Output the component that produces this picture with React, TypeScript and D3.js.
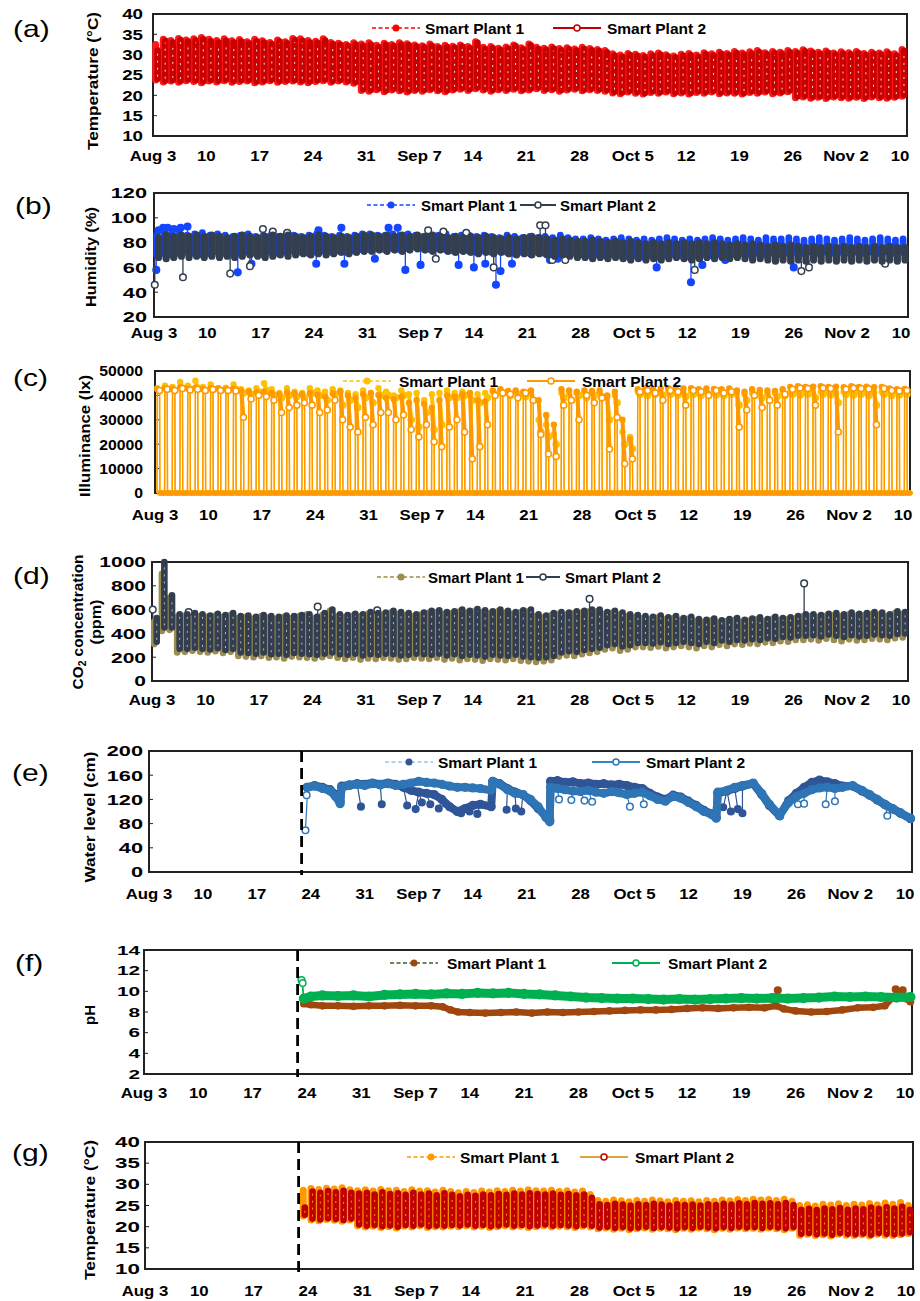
import React from 'react';
import * as d3 from 'd3';

const FONT = "'Liberation Sans', Arial, Helvetica, sans-serif";

// x axis is in days after Aug 3
const tickDays = [0, 7, 14, 21, 28, 35, 42, 49, 56, 63, 70, 77, 84, 91, 99];
const tickLabels = ['Aug 3', '10', '17', '24', '31', 'Sep 7', '14', '21', '28', 'Oct 5', '12', '19', '26', 'Nov 2', '10'];
const sensorStart = 19.8; // water sensors installed (dashed line)

// (a) air temperature, daily max / min, from Aug 3
const airHi1 = [32.5,33.8,33.5,34.0,33.6,33.9,34.2,33.8,33.5,33.9,33.4,33.7,33.2,33.8,
  33.4,33.0,33.6,33.2,34.0,33.9,33.5, 33.3,33.9,33.0,32.8,32.5,32.9,
  32.6,32.9,32.3,32.8,32.5,32.9,32.7,32.4,32.2,32.6,32.0,32.3,32.1,
  32.4,32.0,33.2,31.8,32.0,31.6,31.9,32.4,31.7,32.6,31.8,31.6,31.9,31.5,31.7,31.4,31.8,31.5,31.3,31.0,
  30.2,29.9,30.3,30.1,29.8,30.2,30.4,30.0,29.7,30.1,30.3,29.9,30.5,30.2,30.6,30.3,30.8,30.4,30.7,31.0,30.5,30.8,30.6,31.0,
  30.8,31.2,30.9,30.6,30.9,30.4,30.7,30.5,30.8,30.3,30.6,30.4,30.7,30.2,31.3];
const airLo1 = [23.8,23.3,23.5,23.2,23.6,23.4,23.1,23.5,23.3,23.6,23.2,23.4,23.5,23.1,23.3,23.6,23.2,23.4,23.5,23.3,23.1,23.4,23.6,23.2,23.5,23.3,23.0,
  21.2,21.0,21.4,20.9,21.3,21.1,20.8,21.2,21.0,21.4,21.1,20.9,21.3,
  21.5,21.2,21.6,21.3,21.0,21.4,21.2,21.5,21.1,21.3,21.6,21.2,21.4,21.0,21.3,21.5,21.1,21.4,21.2,21.0,
  20.6,20.4,20.8,20.5,20.3,20.7,20.5,20.8,20.4,20.6,20.3,20.7,20.5,20.8,20.4,20.6,20.5,20.3,20.7,20.5,20.8,20.4,20.6,20.9,
  19.4,19.6,19.3,19.5,19.2,19.6,19.4,19.3,19.5,19.2,19.6,19.4,19.3,19.5,19.8];
const airHi2 = [31.0,33.4,33.0,33.6,33.2,33.5,33.8,33.3,33.0,33.4,33.0,33.2,32.8,33.3,
  33.0,32.6,33.2,32.8,33.6,33.4,33.0, 32.9,33.5,32.6,32.4,32.1,32.5,
  32.2,32.5,31.9,32.4,32.1,32.5,32.3,32.0,31.8,32.2,31.6,31.9,31.7,
  32.0,31.6,32.9,31.4,31.6,31.2,31.5,32.1,31.3,32.3,31.4,31.2,31.5,31.1,31.3,31.0,31.4,31.1,30.9,30.6,
  29.8,29.5,29.9,29.7,29.4,29.8,30.0,29.6,29.3,29.7,29.9,29.5,30.1,29.8,30.2,29.9,30.4,30.0,30.3,30.6,30.1,30.4,30.2,30.6,
  30.4,30.8,30.5,30.2,30.5,30.0,30.3,30.1,30.4,29.9,30.2,30.0,30.3,29.8,30.9];
const airLo2 = [24.1,23.6,23.8,23.5,23.9,23.7,23.4,23.8,23.6,23.9,23.5,23.7,23.8,23.4,23.6,23.9,23.5,23.7,23.8,23.6,23.4,23.7,23.9,23.5,23.8,23.6,23.3,
  21.5,21.3,21.7,21.2,21.6,21.4,21.1,21.5,21.3,21.7,21.4,21.2,21.6,
  21.8,21.5,21.9,21.6,21.3,21.7,21.5,21.8,21.4,21.6,21.9,21.5,21.7,21.3,21.6,21.8,21.4,21.7,21.5,21.3,
  20.9,20.7,21.1,20.8,20.6,21.0,20.8,21.1,20.7,20.9,20.6,21.0,20.8,21.1,20.7,20.9,20.8,20.6,21.0,20.8,21.1,20.7,20.9,21.2,
  19.7,19.9,19.6,19.8,19.5,19.9,19.7,19.6,19.8,19.5,19.9,19.7,19.6,19.8,20.1];

// (b) humidity, daily max / min and single readings outside the band
const humHi1 = [86,88,87,88,86,87,88,86,87,86,85,86,87,85,86,86,85,87,86,85,86,87,86,85,86,85,86,87,
  87,86,86,87,86,87,86,85,86,86,87,85,86,86,85,86,85,84,86,85,84,85,84,85,84,86,84,83,
  83,84,83,82,83,84,83,82,83,82,83,84,83,82,83,82,83,84,83,82,83,84,83,82,84,83,83,84,83,82,83,84,83,82,83,84,83,82,83,84,83,82,83];
const humLo1 = [70,71,70,71,72,71,70,71,72,71,70,71,72,71,70,72,71,72,73,72,71,72,73,72,73,72,73,74,
  74,75,74,75,74,75,76,75,74,75,74,73,74,73,72,73,72,73,72,71,72,71,72,71,70,71,70,71,
  70,69,70,69,70,69,68,69,68,69,68,69,70,69,68,69,70,69,70,71,70,71,70,71,70,71,70,71,72,71,72,71,72,71,72,71,72,71,72,71,72,71,72];
const humHi2 = [84,86,85,86,85,86,85,86,85,84,85,86,85,84,85,86,85,86,85,84,85,86,85,84,85,84,85,86,
  86,85,86,85,86,85,86,85,86,85,84,85,84,85,84,85,84,83,84,83,84,85,84,83,82,83,82,81,
  81,82,81,80,81,80,81,80,79,80,79,80,79,80,79,80,79,80,79,78,79,78,79,78,77,78,77,78,77,76,77,76,77,76,77,76,77,76,77,76,77,76,76];
const humLo2 = [68,67,68,69,68,69,68,69,68,69,68,69,70,69,68,69,70,69,70,71,70,71,70,71,72,71,72,73,
  73,74,73,74,73,74,75,74,73,74,73,72,73,72,71,72,71,72,71,70,71,70,71,70,69,70,69,68,
  68,67,68,67,68,67,66,67,66,67,66,67,68,67,66,67,68,67,68,67,68,67,66,67,66,65,66,65,66,65,66,65,66,65,66,65,66,65,66,65,66,65,66];
const humSpikes1 = [[0.3,58],[0.6,90],[1.2,92],[1.8,92],[2.6,91],[3.5,92],[4.4,93],[11,56],[12.8,63],[21.3,63],[21.6,90],
  [24.6,92],[25,63],[29,67],[30.8,92],[32,92],[33,58],[35,62],[40,62],[42,60],[43.5,63],[44.9,46],[45.5,57],[47,63],
  [52,66],[53,67],[66,60],[70.5,48],[72,62],[75,66],[84,60]];
const humSpikes2 = [[0.1,46],[3.8,52],[10,55],[12.6,61],[14.3,91],[15.6,89],[17.5,88],[36,90],[37,67],[38,89],[41,88],
  [44.6,60],[50.7,94],[51.4,94],[52.3,66],[54,66],[71,58],[85,57],[86,60],[96,63]];

// (c) illuminance: daily daylight peak and lowest daylight reading
const luxPeak1 = [43000,44000,43500,45500,44000,46000,43500,44500,43000,43200,44500,
  42500,42000,43000,45000,42500,41000,43000,41500, 41000,43000,42000,41500,42500,
  42000,41000,40500,42000,40000,43000, 41500,40000,42000, 40500,41000,38000,40500,41000,42000,
  41000,41500,40000,40500,41000, 41500,42000,41000,41500,41000,40500, 30000,28000,24000,
  41000,40500,41000,40000,41000,40500,39000,40000, 25000,23000,
  41500,41000,41500,41000,41500,41200,41000,41500,41000,41500,41200,41000,41500,
  41000,40500,41000,41200,40800,41000,41200,
  41500,41200,41500,41000,41500,41200,41000,41500,41200,41500,41000,41200,41500,41000,41200,41500];
const luxDip1 = [42000,42500,42000,43000,42500,43000,42000,42500,42000,42000,42500,
  41000,40500,41500,42000,40000,39000,40000,39500, 39000,41000,40000,38000,40500,
  36000,38000,35000,39000,37000,40000, 40000,39000,40000, 30000,27000,33000,26000,28000,39000,
  39000,40000,38000,37000,39000, 40500,41000,40000,40500,39500,38000, 25000,23000,20000,
  39000,38000,40000,39000,40000,39500,30000,37000, 20000,18000,
  40500,40000,40500,40000,40500,40200,39500,40500,40000,40500,40200,40000,40500,
  36000,38000,40000,39000,38000,39500,40000,
  40500,40200,40500,39000,40500,40200,37000,40500,40200,40500,40000,36000,40500,40000,40200,40500];
const luxPeak2 = [42500,43000,42500,43500,42800,43200,42600,43000,42800,42500,42700,
  41800,41500,41200,41500,41000,40500,41200,40800, 40500,41000,40200,39500,40800,
  41500,40000,39000,40500,41000,40200, 39000,38500,39500, 37000,38000,36500,35000,38000,40000,
  39500,40500,41000,38000,37500, 42000,42500,41800,42000,41500,42000, 38000,32000,28000,
  42500,42000,41500,42000,41800,42000,40000,41500, 30000,22000,
  42500,43000,42500,42800,43000,42600,42800,43000,42500,42800,42600,42500,42800,
  42000,41500,42500,42200,42000,41800,42500,
  43500,43800,43500,43600,43800,43500,43600,43400,43800,43500,43600,43400,43500,42800,42500,42600];
const luxDip2 = [42000,42500,42000,42800,42200,42500,42000,42400,42000,42000,41800,
  31000,38500,40000,39500,38000,33000,35000,36000, 37000,36000,33000,34000,38000,
  30000,27000,25000,31000,28000,33000, 33000,30000,32000, 26000,23000,28000,21000,19000,27000,
  30000,25000,14000,19000,28000, 40000,41000,40500,39000,41000,38000, 24000,16000,15000,
  36000,38000,30000,40000,37000,39000,18000,31000, 12000,14000,
  41500,42000,41000,38000,42000,41500,36000,42000,41500,40000,42000,41000,41500,
  27000,34000,40000,35000,38000,36000,40500,
  42500,43000,42800,36000,43000,42800,25000,42500,43000,42800,42600,28000,42800,42000,41800,42000];

// (d) CO2, daily max / min
const co2Hi1 = [500,900,700,540,550, 555,545,540,550,540,555,
  530,540,525,545,535,525,540,530,545,560,530,555,590,545,
  540,550,545,565,555,560,575,565,555,545,560,
  575,580,565,570,585,575,590,580,570,585,575,565,580,585,
  545,535,555,565,560,570,575, 585, 585,565,575,560,545,540,
  530,525,535,520,530,515,525, 505,500,510,495,505,515,500,
  510,520,505,525,515,520,530, 545,
  545,540,550,555,545,560,550,555,565,560,545,570,565];
const co2Lo1 = [310,420,430,240,245, 255,245,240,250,235,245,
  210,205,200,210,195,200,190,205,200,195,190,200,210,195,
  185,195,180,190,185,195,190,180,185,195,190,
  185,195,180,190,175,185,180,170,185,180,175,185,170,165,
  160,165,175,205,215,210,225, 235, 245,265,275,255,265,285,
  285,280,290,275,285,295,285, 275,295,285,305,295,310,305,
  315,310,325,320,335,330,345, 345,
  350,340,355,345,335,350,340,345,355,350,345,360,365];
const co2Hi2 = [530,1000,720,560,560, 570,560,550,565,555,570,
  545,550,540,555,545,540,550,545,555,560,540,570,600,560,
  555,565,560,580,570,575,590,580,570,560,575,
  590,595,580,585,600,590,605,595,585,600,590,580,595,600,
  560,550,570,580,575,585,590, 600, 600,580,590,575,560,555,
  545,540,550,535,545,530,540, 520,515,525,510,520,530,515,
  525,535,520,540,530,535,545, 560,
  560,555,565,570,560,575,565,570,580,575,560,585,580];
const co2Lo2 = [330,450,450,270,270, 280,270,265,275,260,270,
  240,235,230,240,225,230,220,235,230,225,220,230,240,225,
  220,230,215,225,220,230,225,215,220,230,225,
  220,230,215,225,210,220,215,205,220,215,210,220,205,200,
  195,200,210,240,250,245,260, 270, 280,300,310,290,300,320,
  320,315,325,310,320,330,320, 310,330,320,340,330,345,340,
  350,345,360,355,370,365,380, 380,
  385,375,390,380,370,385,375,380,390,385,380,395,400];
const co2Spikes2 = [[0.1,600],[4.8,580],[21.7,625],[29.5,595],[57.3,690],[85.4,820]];

// (e) water level, [day, cm]
const level1 = [[20.5,140],[21.5,143],[22.5,140],[23.5,136],[24.2,128],[24.8,116],[25.0,142],[26,144],[27,146],[28,145],
  [29,147],[30,145],[31,147],[32,145],[33,140],[34,135],[35,132],[36,130],[37,128],[38,120],[39,108],[40,100],[41,105],
  [42,110],[43,112],[44.4,108],[44.6,150],[45.5,146],[46.5,138],[47.5,132],[48.5,128],[49.5,118],[50.5,105],[51.5,92],
  [52,85],[52.1,150],[53,151],[54,148],[55,149],[56,146],[57,147],[58,145],[59,146],[60,144],[61,145],[62,143],[63,140],
  [64,138],[65,130],[66,124],[67,120],[68,127],[69,124],[70,117],[71,110],[72,102],[73,96],[73.6,90],[73.8,130],[75,134],
  [76,138],[77,142],[78.4,146],[79.5,128],[80.5,110],[81.8,93],[83,118],[84,130],[85,140],[86,148],[87,152],[88,149],
  [89,146],[90,142],[91.3,142],[92.5,134],[93.5,127],[94.5,119],[95.5,111],[96.5,104],[97.5,97],[98.8,88]];
const level2 = [[20.6,140],[21.5,142],[22.5,138],[23.5,134],[24.2,125],[24.8,113],[25.0,140],[26,143],[27,145],[28,143],
  [29,146],[30,144],[31,146],[32,143],[33,145],[34,147],[35,150],[36,148],[37,147],[38,145],[39,142],[40,140],[41,140],
  [42,139],[43,138],[44.4,135],[44.6,149],[45.5,145],[46.5,136],[47.5,130],[48.5,128],[49.5,120],[50.5,108],[51.5,90],
  [52,83],[52.1,140],[53,138],[54,136],[55,134],[56,133],[57,135],[58,132],[59,130],[60,133],[61,131],[62,128],[63,130],
  [64,132],[65,126],[66,120],[67,117],[68,125],[69,122],[70,115],[71,108],[72,100],[73,95],[73.6,89],[73.8,132],[75,135],
  [76,140],[77,143],[78.4,147],[79.5,130],[80.5,112],[81.8,94],[83,115],[84,125],[85,130],[86,136],[87,139],[88,140],
  [89,138],[90,140],[91.3,143],[92.5,135],[93.5,128],[94.5,120],[95.5,112],[96.5,105],[97.5,98],[98.8,89]];
const levelDots1 = [[27.5,108],[30.2,112],[33.5,110],[34.6,104],[35.4,115],[36.5,112],[37.6,105],[38.5,113],[40.5,97],
  [41.6,100],[42.6,96],[46.4,103],[47.6,105],[48.3,100],[74.5,107],[75.5,100],[76.4,104],[77,97]];
const levelDots2 = [[20.3,69],[20.45,127],[53.2,120],[54.8,119],[56.5,118],[57.5,116],[62.4,108],[64.2,112],[81.9,92],
  [84.2,112],[85,113],[87.8,112],[89,117],[95.8,93]];

// (f) pH, [day, pH]
const ph1 = [[20.6,8.8],[21.5,8.7],[23,8.6],[25,8.6],[27,8.55],[29,8.6],[31,8.6],[33,8.65],[35,8.6],[37,8.6],[38.5,8.5],
  [39.5,8.2],[40.5,8.0],[42,7.95],[44,7.9],[46,7.95],[48,8.0],[50,7.9],[52,8.0],[54,7.95],[56,8.0],[58,8.05],[60,8.1],
  [62,8.15],[64,8.2],[66,8.2],[68,8.25],[70,8.35],[72,8.4],[74,8.35],[76,8.4],[78,8.45],[80,8.4],[81.5,8.6],[82.5,8.3],
  [84,8.1],[86,8.0],[88,8.05],[90,8.2],[92,8.4],[94,8.45],[95.5,8.6],[96.5,9.4],[97.5,9.8],[98.2,9.3],[98.8,9.0]];
const ph2 = [[20.6,9.3],[21.5,9.5],[23,9.6],[25,9.55],[27,9.6],[29,9.5],[31,9.65],[33,9.7],[35,9.75],[37,9.7],[39,9.8],
  [41,9.75],[43,9.85],[45,9.8],[47,9.85],[49,9.75],[51,9.7],[53,9.6],[55,9.5],[57,9.4],[59,9.35],[61,9.3],[63,9.3],
  [65,9.25],[67,9.2],[69,9.25],[71,9.2],[73,9.25],[75,9.3],[77,9.35],[79,9.3],[81,9.35],[83,9.3],[85,9.35],[87,9.4],
  [89,9.5],[91,9.45],[93,9.5],[95,9.45],[97,9.4],[98.8,9.45]];
const phDots1 = [[81.3,9.4],[81.7,10.1],[96.9,10.2],[97.8,10.1]];
const phDots2 = [[20.3,11.1],[20.45,10.8]];

// (g) water temperature, daily max / min from Aug 23
const wtStart = 20;
const wtHi1 = [28.6,29.0,28.8,29.1,28.9,29.2,28.7,
  28.5,28.7,28.4,28.8,28.5,28.6,28.3,28.7,28.4,28.5,28.2,28.6,28.3,
  28.0,28.3,28.1,28.4,28.2,28.5,28.3,28.6,28.4,28.7,28.5,28.4,28.6,28.3,28.5,28.2,28.4,27.6,
  26.2,26.0,26.3,26.1,25.9,26.2,26.0,26.3,26.1,25.9,26.2,26.0,26.1,25.9,26.2,26.0,26.3,26.1,26.4,26.2,26.5,26.3,26.4,26.2,26.5,26.0,
  25.0,25.2,24.9,25.3,25.1,25.4,25.0,25.3,25.1,25.5,25.2,25.6,25.3,25.7,25.0];
const wtLo1 = [22.5,21.6,21.4,21.7,21.5,21.3,21.6,
  20.2,19.9,20.1,19.8,20.0,19.7,20.1,19.9,20.2,19.8,20.0,19.9,20.1,
  20.0,20.2,19.9,20.1,19.8,20.0,20.2,19.9,20.1,19.8,20.0,20.2,19.9,20.1,20.0,19.8,20.1,19.9,
  19.5,19.7,19.4,19.6,19.3,19.5,19.7,19.4,19.6,19.5,19.3,19.6,19.4,19.7,19.5,19.3,19.6,19.4,19.7,19.5,19.6,19.4,19.7,19.5,19.3,19.6,
  18.0,18.2,17.9,18.1,17.8,18.2,18.0,17.9,18.1,17.8,18.2,18.0,17.9,18.1,18.4];
const wtHi2 = [24.5,28.3,28.0,28.4,28.1,28.5,28.0,
  27.8,28.0,27.6,28.1,27.7,27.9,27.5,28.0,27.6,27.8,27.4,27.9,27.5,
  27.2,27.5,27.3,27.6,27.4,27.7,27.5,27.8,27.6,27.9,27.7,27.6,27.8,27.5,27.7,27.4,27.6,26.8,
  25.3,25.1,25.4,25.2,25.0,25.3,25.1,25.4,25.2,25.0,25.3,25.1,25.2,25.0,25.3,25.1,25.4,25.2,25.5,25.3,25.6,25.4,25.5,25.3,25.6,25.1,
  24.0,24.2,23.9,24.3,24.1,24.4,24.0,24.3,24.1,24.5,24.2,24.6,24.3,24.7,24.0];
const wtLo2 = [22.8,21.9,21.7,22.0,21.8,21.6,21.9,
  20.5,20.2,20.4,20.1,20.3,20.0,20.4,20.2,20.5,20.1,20.3,20.2,20.4,
  20.3,20.5,20.2,20.4,20.1,20.3,20.5,20.2,20.4,20.1,20.3,20.5,20.2,20.4,20.3,20.1,20.4,20.2,
  19.8,20.0,19.7,19.9,19.6,19.8,20.0,19.7,19.9,19.8,19.6,19.9,19.7,20.0,19.8,19.6,19.9,19.7,20.0,19.8,19.9,19.7,20.0,19.8,19.6,19.9,
  18.3,18.5,18.2,18.4,18.1,18.5,18.3,18.2,18.4,18.1,18.5,18.3,18.2,18.4,18.7];

// legend: [y, line1 x, text1 x, line2 x, text2 x, line2 length, font size]
const panels = {
  a: { L: 153, T: 14, R: 907, B: 136, y: [10, 40, 5], tickX: 143, tf: [15, 1.25], title: ['Temperature (°C)'], tx: [98], ty: 81, tl: [138],
    letter: ['(a)', 13, 37], xl: 161, leg: [28, 372, 425, 553, 607, 48, 15.5],
    s1: { line: '#FF0000', mark: '#FF0000' }, s2: { line: '#C00000', mark: '#C00000' } },
  b: { L: 154, T: 193, R: 908, B: 317, y: [20, 120, 20], tickX: 147, tf: [15, 1.45], title: ['Humidity (%)'], tx: [96], ty: 257, tl: [100],
    letter: ['(b)', 15, 214], xl: 338, leg: [205, 367, 421, 520, 560, 36, 15],
    s1: { line: '#1446FF', mark: '#1446FF' }, s2: { line: '#333F4F', mark: '#333F4F' } },
  c: { L: 155, T: 371, R: 910, B: 493, y: [0, 50000, 10000], tickX: 143, tf: [15, 1.05], title: ['Illuminance (lx)'], tx: [90], ty: 436, tl: [122],
    letter: ['(c)', 13, 386], xl: 520, leg: [381, 343, 399, 527, 582, 48, 15.5],
    s1: { line: '#FFC000', mark: '#FFC000' }, s2: { line: '#FF9900', mark: '#FF9900' } },
  d: { L: 152, T: 562, R: 908, B: 681, y: [0, 1000, 200], tickX: 146, tf: [15, 1.4], title: ['CO2 concentration', '(ppm)'], tx: [83, 101], ty: 622, tl: [135, 45],
    letter: ['(d)', 13, 584], xl: 705, leg: [577, 377, 428, 526, 565, 34, 15],
    s1: { line: '#9C8C50', mark: '#9C8C50' }, s2: { line: '#323E4F', mark: '#323E4F' } },
  e: { L: 149, T: 751, R: 912, B: 872, y: [0, 200, 40], tickX: 143, tf: [15, 1.45], title: ['Water level (cm)'], tx: [95], ty: 817, tl: [131],
    letter: ['(e)', 12, 781], xl: 899, leg: [762, 385, 438, 592, 646, 48, 15.5], dashed: true,
    s1: { line: '#9DC3E6', mark: '#2F5597' }, s2: { line: '#2F8AC4', mark: '#2E75B6' } },
  f: { L: 144, T: 950, R: 912, B: 1074, y: [2, 14, 2], tickX: 140, tf: [13, 1.6], title: ['pH'], tx: [95], ty: 1015, tl: [20],
    letter: ['(f)', 15, 971], xl: 1098, leg: [963, 390, 447, 612, 668, 48, 15.5], dashed: true,
    s1: { line: '#3B5B2A', mark: '#9E480E' }, s2: { line: '#00B050', mark: '#00B050' } },
  g: { L: 145, T: 1142, R: 913, B: 1269, y: [10, 40, 5], tickX: 140, tf: [14, 1.6], title: ['Temperature (°C)'], tx: [95], ty: 1210, tl: [140],
    letter: ['(g)', 12, 1161], xl: 1296, leg: [1157, 407, 460, 580, 635, 48, 15.5], dashed: true,
    s1: { line: '#FF9900', mark: '#FF9900' }, s2: { line: '#D9A441', mark: '#C00000' } },
};

function Legend({ c }: any) {
  const [y, l1, t1, l2, t2, len2, fs] = c.leg;
  const len = 48;
  return (
    <g fontFamily={FONT} fontWeight="bold" fontSize={fs}>
      <line x1={l1} x2={l1 + len} y1={y} y2={y} stroke={c.s1.line} strokeWidth={1.6} strokeDasharray="4 2.5" />
      <circle cx={l1 + len / 2} cy={y} r={3.5} fill={c.s1.mark} />
      <text x={t1} y={y + 5.5}>Smart Plant 1</text>
      <line x1={l2} x2={l2 + len2} y1={y} y2={y} stroke={c.s2.line} strokeWidth={1.8} />
      <circle cx={l2 + len2 / 2} cy={y} r={3} fill="#fff" stroke={c.s2.mark} strokeWidth={1.5} />
      <text x={t2} y={y + 5.5}>Smart Plant 2</text>
    </g>
  );
}

function Panel({ c, children }: any) {
  const x = d3.scaleLinear().domain([0, 99]).range([c.L, c.R]);
  const y = d3.scaleLinear().domain([c.y[0], c.y[1]]).range([c.B, c.T]);
  const yTicks = d3.range(c.y[0], c.y[1] + c.y[2] / 2, c.y[2]);
  const last = tickDays.length - 1;
  return (
    <g>
      <rect x={c.L} y={c.T} width={c.R - c.L} height={c.B - c.T} fill="#fff" stroke="#222" strokeWidth={2} />
      {yTicks.map((v) => (
        <line key={v} x1={c.L} x2={c.L + 4} y1={y(v)} y2={y(v)} stroke="#222" strokeWidth={1} />
      ))}
      {children(x, y)}
      {c.dashed && (
        <line x1={x(sensorStart)} x2={x(sensorStart)} y1={c.T} y2={c.B + 3} stroke="#000" strokeWidth={2.8} strokeDasharray="11 6" />
      )}
      {yTicks.map((v) => (
        <text key={v} transform={`translate(${c.tickX},${y(v) + c.tf[0] * 0.36}) scale(${c.tf[1]},1)`} textAnchor="end"
          fontFamily={FONT} fontWeight="bold" fontSize={c.tf[0]}>{v}</text>
      ))}
      {tickDays.map((d, i) => (
        <text key={d} transform={`translate(${x(d) - (i === last ? 7 : 0)},${c.xl}) scale(1.12,1)`} textAnchor="middle"
          fontFamily={FONT} fontWeight="bold" fontSize={15}>{tickLabels[i]}</text>
      ))}
      {c.title.map((t: string, i: number) => (
        <text key={t} transform={`translate(${c.tx[i]},${c.ty}) rotate(-90)`} textAnchor="middle" fontFamily={FONT}
          fontWeight="bold" fontSize={15} textLength={c.tl[i]} lengthAdjust="spacingAndGlyphs">
          {t.startsWith('CO2') ? (<>CO<tspan fontSize={10} dy={3}>2</tspan><tspan dy={-3}> concentration</tspan></>) : t}
        </text>
      ))}
      <text transform={`translate(${c.letter[1]},${c.letter[2]}) scale(1.25,1)`} fontFamily={FONT} fontSize={24}>{c.letter[0]}</text>
      <Legend c={c} />
    </g>
  );
}

// one rounded bar per day spanning the day's min..max readings
function Band({ x, y, start = 0, hi, lo, color, w = 6.8, off = 0.5, speck }: any) {
  const n = Math.min(hi.length, lo.length);
  return (
    <g>
      {d3.range(n).map((i) => {
        const cx = x(start + i + off);
        const y1 = y(lo[i]);
        const y2 = y(hi[i]);
        return (
          <g key={i}>
            <line x1={cx} x2={cx} y1={y1} y2={y2} stroke={color} strokeWidth={w} strokeLinecap="round" />
            {speck && y1 - y2 > 6 && (
              <line x1={cx} x2={cx} y1={y1 - 2} y2={y2 + 2} stroke={speck} strokeWidth={1} strokeDasharray="2 5" opacity={0.85} />
            )}
          </g>
        );
      })}
    </g>
  );
}

function Spikes({ x, y, start = 0, hi, lo, pts, color, hollow }: any) {
  return (
    <g>
      {pts.map(([d, v]: number[], k: number) => {
        const i = Math.max(0, Math.min(hi.length - 1, Math.floor(d - start)));
        const a = v < lo[i] ? lo[i] : hi[i];
        return (
          <g key={k}>
            <line x1={x(d)} x2={x(d)} y1={y(a)} y2={y(v)} stroke={color} strokeWidth={1.3} />
            <circle cx={x(d)} cy={y(v)} r={3.3} fill={hollow ? '#fff' : color} stroke={color} strokeWidth={1.5} />
          </g>
        );
      })}
    </g>
  );
}

function LuxSeries({ x, y, peak, dip, color, hollow }: any) {
  const pts: number[][] = [];
  peak.forEach((p: number, i: number) => {
    pts.push([i + 0.26, 0], [i + 0.3, p], [i + 0.6, dip[i]], [i + 0.64, 0]);
  });
  const line = d3.line<number[]>().x((d) => x(d[0])).y((d) => y(d[1]));
  const nights = peak.map((_: number, i: number) => [[i + 0.64, 0], [Math.min(99, i + 1.26), 0]]);
  return (
    <g>
      <path d={line(pts) || ''} fill="none" stroke={color} strokeWidth={1.4} />
      {nights.map((s: number[][], i: number) => (
        <path key={i} d={line(s) || ''} fill="none" stroke={color} strokeWidth={5.5} strokeLinecap="round" />
      ))}
      {peak.map((p: number, i: number) => (
        <g key={i}>
          <line x1={x(i + 0.3)} x2={x(i + 0.6)} y1={y(p)} y2={y(dip[i])} stroke={color} strokeWidth={4} />
          <circle cx={x(i + 0.3)} cy={y(p)} r={3.2} fill={color} />
          <circle cx={x(i + 0.6)} cy={y(dip[i])} r={3} fill={hollow ? '#fff' : color} stroke={color} strokeWidth={1.6} />
        </g>
      ))}
    </g>
  );
}

function Trace({ x, y, pts, color, w, dots, dotColor, hollow }: any) {
  const line = d3.line<number[]>().x((d) => x(d[0])).y((d) => y(d[1]));
  return (
    <g>
      {dots.map(([d, v]: number[], k: number) => {
        const near = pts.reduce((b: number[], p: number[]) => (Math.abs(p[0] - d) < Math.abs(b[0] - d) ? p : b), pts[0]);
        return (
          <g key={k}>
            <line x1={x(d)} x2={x(near[0])} y1={y(v)} y2={y(near[1])} stroke={color} strokeWidth={1.2} />
            <circle cx={x(d)} cy={y(v)} r={3.3} fill={hollow ? '#fff' : dotColor} stroke={dotColor} strokeWidth={1.5} />
          </g>
        );
      })}
      <path d={line(pts) || ''} fill="none" stroke={color} strokeWidth={w} strokeLinejoin="round" strokeLinecap="round" />
      {pts.map(([d, v]: number[], k: number) => (
        <circle key={k} cx={x(d)} cy={y(v)} r={w / 2 + 0.6} fill={color} />
      ))}
    </g>
  );
}

export default function App() {
  return (
    <svg width={920} height={1301} viewBox="0 0 920 1301" style={{ position: 'absolute', left: 0, top: 0, background: '#fff' }}>
      <rect width={920} height={1301} fill="#fff" />
      <Panel c={panels.a}>
        {(x: any, y: any) => (
          <g>
            <Band x={x} y={y} hi={airHi1} lo={airLo1} color="#FF1A1A" off={0.35} w={7} />
            <Band x={x} y={y} hi={airHi2} lo={airLo2} color="#C80000" off={0.6} w={6.6} speck="#fff" />
          </g>
        )}
      </Panel>
      <Panel c={panels.b}>
        {(x: any, y: any) => (
          <g>
            <Spikes x={x} y={y} hi={humHi1} lo={humLo1} pts={humSpikes1} color="#1446FF" />
            <Band x={x} y={y} hi={humHi1} lo={humLo1} color="#1446FF" off={0.35} w={6.8} />
            <Spikes x={x} y={y} hi={humHi2} lo={humLo2} pts={humSpikes2} color="#333F4F" hollow />
            <Band x={x} y={y} hi={humHi2} lo={humLo2} color="#333F4F" off={0.6} w={7.2} />
          </g>
        )}
      </Panel>
      <Panel c={panels.c}>
        {(x: any, y: any) => (
          <g>
            <LuxSeries x={x} y={y} peak={luxPeak1} dip={luxDip1} color="#FFC000" />
            <LuxSeries x={x} y={y} peak={luxPeak2} dip={luxDip2} color="#FF9900" hollow />
          </g>
        )}
      </Panel>
      <Panel c={panels.d}>
        {(x: any, y: any) => (
          <g>
            <Band x={x} y={y} hi={co2Hi1} lo={co2Lo1} color="#9C8C50" off={0.3} w={6.6} />
            <Spikes x={x} y={y} hi={co2Hi2} lo={co2Lo2} pts={co2Spikes2} color="#323E4F" hollow />
            <Band x={x} y={y} hi={co2Hi2} lo={co2Lo2} color="#323E4F" off={0.62} w={6.6} speck="#cfd3da" />
          </g>
        )}
      </Panel>
      <Panel c={panels.e}>
        {(x: any, y: any) => (
          <g>
            <Trace x={x} y={y} pts={level1} color="#2F5597" w={8} dots={levelDots1} dotColor="#2F5597" />
            <Trace x={x} y={y} pts={level2} color="#2E75B6" w={8} dots={levelDots2} dotColor="#2E75B6" hollow />
          </g>
        )}
      </Panel>
      <Panel c={panels.f}>
        {(x: any, y: any) => (
          <g>
            <Trace x={x} y={y} pts={ph1} color="#A0470E" w={6.5} dots={phDots1} dotColor="#A0470E" />
            <Trace x={x} y={y} pts={ph2} color="#00B050" w={9} dots={phDots2} dotColor="#00B050" hollow />
          </g>
        )}
      </Panel>
      <Panel c={panels.g}>
        {(x: any, y: any) => (
          <g>
            <Band x={x} y={y} start={wtStart} hi={wtHi1} lo={wtLo1} color="#FF9900" off={0.4} w={7} />
            <Band x={x} y={y} start={wtStart} hi={wtHi2} lo={wtLo2} color="#C00000" off={0.6} w={6.6} speck="#FFB020" />
          </g>
        )}
      </Panel>
    </svg>
  );
}
